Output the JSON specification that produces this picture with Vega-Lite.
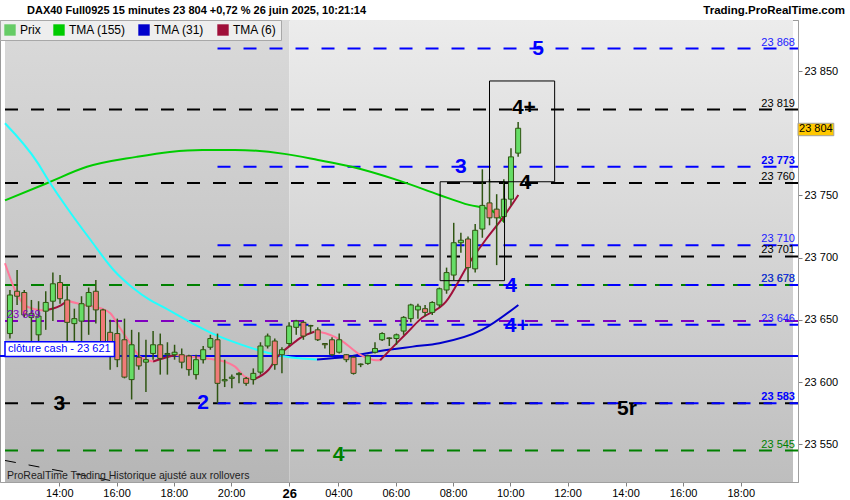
{
  "$schema": "https://vega.github.io/schema/vega-lite/v6.json",
  "width": 798,
  "height": 462,
  "autosize": {"type": "none"},
  "padding": {"left": 0, "top": 20, "right": 52, "bottom": 18},
  "background": "#ffffff",
  "config": {"font": "Liberation Sans", "view": {"stroke": "#9a9a9a", "strokeWidth": 1}},
  "datasets": {
    "sessions": [
      {"s": "25", "from": -0.69, "to": 39.03},
      {"s": "26", "from": 39.03, "to": 109.4}
    ],
    "levels": [
      {"v": 23819, "c": "#000000", "full": true},
      {"v": 23760, "c": "#000000", "full": true},
      {"v": 23701, "c": "#000000", "full": true},
      {"v": 23678, "c": "#008000", "full": true},
      {"v": 23649, "c": "#8000c0", "full": true},
      {"v": 23583, "c": "#000000", "full": true},
      {"v": 23545, "c": "#008000", "full": true},
      {"v": 23868, "c": "#0000ff", "full": false, "from": 29},
      {"v": 23773, "c": "#0000ff", "full": false, "from": 29},
      {"v": 23710, "c": "#0000ff", "full": false, "from": 29},
      {"v": 23678, "c": "#0000ff", "full": false, "from": 29},
      {"v": 23646, "c": "#0000ff", "full": false, "from": 29},
      {"v": 23583, "c": "#0000ff", "full": false, "from": 29}
    ],
    "cash": [{"v": 23621, "b0": -0.69, "b1": 14.6, "v0": 23632.5, "v1": 23620.5, "t": "clôture cash -  23 621", "tv": 23626.5}],
    "trend": [{"b0": -0.69, "v0": 23537, "b1": 14.6, "v1": 23520.3}],
    "headleft": [{"t": "DAX40 Full0925 15 minutes 23 804 +0,72 % 26 juin 2025, 10:21:14", "b": -0.69, "v": 23891}],
    "headright": [{"t": "Trading.ProRealTime.com", "v": 23891}],
    "ma": [
      {"b": -0.69, "v": 23746, "s": "g", "c": "#00cc00"},
      {"b": 5.24, "v": 23760, "s": "g", "c": "#00cc00"},
      {"b": 10.76, "v": 23773, "s": "g", "c": "#00cc00"},
      {"b": 17.66, "v": 23781, "s": "g", "c": "#00cc00"},
      {"b": 22.34, "v": 23785, "s": "g", "c": "#00cc00"},
      {"b": 26.9, "v": 23786.6, "s": "g", "c": "#00cc00"},
      {"b": 31.45, "v": 23786.6, "s": "g", "c": "#00cc00"},
      {"b": 38.34, "v": 23783.4, "s": "g", "c": "#00cc00"},
      {"b": 43.03, "v": 23778.5, "s": "g", "c": "#00cc00"},
      {"b": 47.59, "v": 23773.2, "s": "g", "c": "#00cc00"},
      {"b": 54.48, "v": 23761.7, "s": "g", "c": "#00cc00"},
      {"b": 60, "v": 23750.4, "s": "g", "c": "#00cc00"},
      {"b": 64.14, "v": 23742.4, "s": "g", "c": "#00cc00"},
      {"b": 67.17, "v": 23738.3, "s": "g", "c": "#00cc00"},
      {"b": 69.0, "v": 23729, "s": "g", "c": "#00cc00"},
      {"b": -0.69, "v": 23808, "s": "c1", "c": "#22ffff"},
      {"b": 3.9, "v": 23776, "s": "c1", "c": "#22ffff"},
      {"b": 5.28, "v": 23763, "s": "c1", "c": "#22ffff"},
      {"b": 8.51, "v": 23735.7, "s": "c1", "c": "#22ffff"},
      {"b": 11.27, "v": 23714.2, "s": "c1", "c": "#22ffff"},
      {"b": 14.48, "v": 23690.1, "s": "c1", "c": "#22ffff"},
      {"b": 17.24, "v": 23675.4, "s": "c1", "c": "#22ffff"},
      {"b": 19.54, "v": 23666, "s": "c1", "c": "#22ffff"},
      {"b": 21.38, "v": 23660.4, "s": "c1", "c": "#22ffff"},
      {"b": 25.06, "v": 23648.6, "s": "c1", "c": "#22ffff"},
      {"b": 28.73, "v": 23637.9, "s": "c1", "c": "#22ffff"},
      {"b": 32.41, "v": 23629.9, "s": "c1", "c": "#22ffff"},
      {"b": 36.1, "v": 23623.4, "s": "c1", "c": "#22ffff"},
      {"b": 39.31, "v": 23619.8, "s": "c1", "c": "#22ffff"},
      {"b": 42.9, "v": 23618.2, "s": "c1", "c": "#22ffff"},
      {"b": 42.9, "v": 23618.2, "s": "c2", "c": "#0000cc"},
      {"b": 47.17, "v": 23620.4, "s": "c2", "c": "#0000cc"},
      {"b": 51.72, "v": 23625, "s": "c2", "c": "#0000cc"},
      {"b": 56.28, "v": 23628.5, "s": "c2", "c": "#0000cc"},
      {"b": 60, "v": 23631.2, "s": "c2", "c": "#0000cc"},
      {"b": 65.93, "v": 23641.9, "s": "c2", "c": "#0000cc"},
      {"b": 71.03, "v": 23662, "s": "c2", "c": "#0000cc"},
      {"b": -0.69, "v": 23695.5, "s": "p1", "c": "#ff7799"},
      {"b": 0.92, "v": 23671.4, "s": "p1", "c": "#ff7799"},
      {"b": 2.07, "v": 23662, "s": "p1", "c": "#ff7799"},
      {"b": 3.45, "v": 23658.5, "s": "p1", "c": "#ff7799"},
      {"b": 4.83, "v": 23657.5, "s": "p1", "c": "#ff7799"},
      {"b": 4.83, "v": 23657.5, "s": "r1", "c": "#a0103a"},
      {"b": 6.9, "v": 23661, "s": "r1", "c": "#a0103a"},
      {"b": 8.04, "v": 23665.4, "s": "r1", "c": "#a0103a"},
      {"b": 8.04, "v": 23665.4, "s": "p2", "c": "#ff7799"},
      {"b": 10.34, "v": 23662, "s": "p2", "c": "#ff7799"},
      {"b": 12.65, "v": 23659.3, "s": "p2", "c": "#ff7799"},
      {"b": 14.03, "v": 23655.3, "s": "p2", "c": "#ff7799"},
      {"b": 15.41, "v": 23643.3, "s": "p2", "c": "#ff7799"},
      {"b": 16.79, "v": 23631.2, "s": "p2", "c": "#ff7799"},
      {"b": 18.17, "v": 23620.4, "s": "p2", "c": "#ff7799"},
      {"b": 20, "v": 23616.5, "s": "p2", "c": "#ff7799"},
      {"b": 20, "v": 23616.5, "s": "r2", "c": "#a0103a"},
      {"b": 21.66, "v": 23619.5, "s": "r2", "c": "#a0103a"},
      {"b": 23.17, "v": 23621.8, "s": "r2", "c": "#a0103a"},
      {"b": 23.17, "v": 23621.8, "s": "p3", "c": "#ff7799"},
      {"b": 25.93, "v": 23620, "s": "p3", "c": "#ff7799"},
      {"b": 28.69, "v": 23618, "s": "p3", "c": "#ff7799"},
      {"b": 29.66, "v": 23617, "s": "p3", "c": "#ff7799"},
      {"b": 31.45, "v": 23612.4, "s": "p3", "c": "#ff7799"},
      {"b": 32.83, "v": 23604.3, "s": "p3", "c": "#ff7799"},
      {"b": 34.07, "v": 23602.2, "s": "p3", "c": "#ff7799"},
      {"b": 34.07, "v": 23602.2, "s": "r3", "c": "#a0103a"},
      {"b": 36.1, "v": 23609.7, "s": "r3", "c": "#a0103a"},
      {"b": 37.48, "v": 23621, "s": "r3", "c": "#a0103a"},
      {"b": 39.31, "v": 23630, "s": "r3", "c": "#a0103a"},
      {"b": 40.69, "v": 23636, "s": "r3", "c": "#a0103a"},
      {"b": 42.52, "v": 23640.5, "s": "r3", "c": "#a0103a"},
      {"b": 42.52, "v": 23640.5, "s": "p4", "c": "#ff7799"},
      {"b": 43.45, "v": 23640, "s": "p4", "c": "#ff7799"},
      {"b": 46.2, "v": 23633.8, "s": "p4", "c": "#ff7799"},
      {"b": 48.97, "v": 23621.8, "s": "p4", "c": "#ff7799"},
      {"b": 50.8, "v": 23617.8, "s": "p4", "c": "#ff7799"},
      {"b": 51.72, "v": 23617.5, "s": "p4", "c": "#ff7799"},
      {"b": 51.72, "v": 23617.5, "s": "r4", "c": "#a0103a"},
      {"b": 53.56, "v": 23628.5, "s": "r4", "c": "#a0103a"},
      {"b": 55.41, "v": 23639.2, "s": "r4", "c": "#a0103a"},
      {"b": 57.24, "v": 23650, "s": "r4", "c": "#a0103a"},
      {"b": 60.92, "v": 23664.6, "s": "r4", "c": "#a0103a"},
      {"b": 64.14, "v": 23695.5, "s": "r4", "c": "#a0103a"},
      {"b": 66.44, "v": 23714.2, "s": "r4", "c": "#a0103a"},
      {"b": 68.97, "v": 23733, "s": "r4", "c": "#a0103a"},
      {"b": 71.03, "v": 23750.4, "s": "r4", "c": "#a0103a"}
    ],
    "candles": [
      {"b": 0, "o": 23639, "h": 23674, "l": 23635, "c": 23670},
      {"b": 1, "o": 23673, "h": 23690, "l": 23662, "c": 23669},
      {"b": 2, "o": 23672, "h": 23674, "l": 23652, "c": 23654},
      {"b": 3, "o": 23652, "h": 23666, "l": 23630, "c": 23655},
      {"b": 4, "o": 23638, "h": 23665, "l": 23628, "c": 23653},
      {"b": 5, "o": 23657, "h": 23673, "l": 23642, "c": 23664},
      {"b": 6, "o": 23665, "h": 23688, "l": 23649, "c": 23679},
      {"b": 7, "o": 23680, "h": 23686, "l": 23663, "c": 23667},
      {"b": 8, "o": 23666, "h": 23677, "l": 23631, "c": 23648},
      {"b": 9, "o": 23647, "h": 23659, "l": 23630, "c": 23651},
      {"b": 10, "o": 23649, "h": 23669, "l": 23632, "c": 23663},
      {"b": 11, "o": 23661, "h": 23676, "l": 23638, "c": 23672},
      {"b": 12, "o": 23673, "h": 23682, "l": 23647, "c": 23658},
      {"b": 13, "o": 23658, "h": 23659, "l": 23622, "c": 23630},
      {"b": 14, "o": 23640, "h": 23650, "l": 23610, "c": 23625},
      {"b": 15, "o": 23639, "h": 23651, "l": 23612, "c": 23618},
      {"b": 16, "o": 23634, "h": 23651, "l": 23603, "c": 23604},
      {"b": 17, "o": 23602, "h": 23642, "l": 23586, "c": 23630},
      {"b": 18, "o": 23620, "h": 23640, "l": 23610, "c": 23613},
      {"b": 19, "o": 23616, "h": 23634, "l": 23592, "c": 23618},
      {"b": 20, "o": 23623, "h": 23641, "l": 23618, "c": 23630},
      {"b": 21, "o": 23630, "h": 23639, "l": 23606, "c": 23619},
      {"b": 22, "o": 23622, "h": 23632, "l": 23606, "c": 23623},
      {"b": 23, "o": 23622, "h": 23630, "l": 23618, "c": 23624},
      {"b": 24, "o": 23622, "h": 23627, "l": 23611, "c": 23616},
      {"b": 25, "o": 23621, "h": 23622, "l": 23605, "c": 23610},
      {"b": 26, "o": 23606, "h": 23622, "l": 23602, "c": 23618},
      {"b": 27, "o": 23618, "h": 23629, "l": 23615, "c": 23626},
      {"b": 28, "o": 23628, "h": 23638, "l": 23626, "c": 23635},
      {"b": 29, "o": 23634, "h": 23639, "l": 23583, "c": 23599},
      {"b": 30, "o": 23601, "h": 23618, "l": 23596, "c": 23602},
      {"b": 31, "o": 23603, "h": 23606, "l": 23595, "c": 23604},
      {"b": 32, "o": 23606, "h": 23608, "l": 23599, "c": 23607},
      {"b": 33, "o": 23603, "h": 23604, "l": 23597, "c": 23599},
      {"b": 34, "o": 23602, "h": 23611, "l": 23598, "c": 23607},
      {"b": 35, "o": 23608, "h": 23632, "l": 23606, "c": 23629},
      {"b": 36, "o": 23629, "h": 23639, "l": 23627, "c": 23637},
      {"b": 37, "o": 23633, "h": 23635, "l": 23610, "c": 23614},
      {"b": 38, "o": 23622, "h": 23628, "l": 23607, "c": 23626},
      {"b": 39, "o": 23631, "h": 23648, "l": 23629, "c": 23645},
      {"b": 40, "o": 23644, "h": 23650, "l": 23638, "c": 23649},
      {"b": 41, "o": 23648, "h": 23649, "l": 23634, "c": 23637},
      {"b": 42, "o": 23645, "h": 23646, "l": 23639, "c": 23645.5},
      {"b": 43, "o": 23642, "h": 23644, "l": 23633, "c": 23634},
      {"b": 44, "o": 23631, "h": 23631.5, "l": 23627, "c": 23630},
      {"b": 45, "o": 23634, "h": 23636, "l": 23621, "c": 23622},
      {"b": 46, "o": 23624, "h": 23639, "l": 23623, "c": 23634},
      {"b": 47, "o": 23622, "h": 23622.5, "l": 23616, "c": 23618},
      {"b": 48, "o": 23620, "h": 23621, "l": 23606, "c": 23607},
      {"b": 49, "o": 23614, "h": 23615, "l": 23612, "c": 23614.5},
      {"b": 50, "o": 23615, "h": 23622, "l": 23614, "c": 23621},
      {"b": 51, "o": 23624, "h": 23632, "l": 23623, "c": 23627},
      {"b": 52, "o": 23634, "h": 23640, "l": 23633, "c": 23639},
      {"b": 53, "o": 23635, "h": 23636, "l": 23629, "c": 23635.5},
      {"b": 54, "o": 23635, "h": 23639, "l": 23630, "c": 23638},
      {"b": 55, "o": 23641, "h": 23653, "l": 23638, "c": 23652},
      {"b": 56, "o": 23651, "h": 23663, "l": 23648, "c": 23662},
      {"b": 57, "o": 23658, "h": 23663, "l": 23651, "c": 23661},
      {"b": 58, "o": 23659, "h": 23662, "l": 23653, "c": 23656},
      {"b": 59, "o": 23656, "h": 23665, "l": 23654, "c": 23664},
      {"b": 60, "o": 23662, "h": 23676, "l": 23660, "c": 23675},
      {"b": 61, "o": 23674, "h": 23692, "l": 23671, "c": 23688},
      {"b": 62, "o": 23686, "h": 23728, "l": 23682, "c": 23712},
      {"b": 63, "o": 23712, "h": 23720, "l": 23704, "c": 23714},
      {"b": 64, "o": 23715, "h": 23717, "l": 23680, "c": 23692},
      {"b": 65, "o": 23691, "h": 23727, "l": 23688, "c": 23722},
      {"b": 66, "o": 23723, "h": 23771, "l": 23716, "c": 23742},
      {"b": 67, "o": 23744, "h": 23763, "l": 23726, "c": 23732},
      {"b": 68, "o": 23739, "h": 23751, "l": 23694, "c": 23732},
      {"b": 69, "o": 23733, "h": 23763, "l": 23728, "c": 23747},
      {"b": 70, "o": 23747, "h": 23788, "l": 23742, "c": 23781},
      {"b": 71, "o": 23784, "h": 23809, "l": 23781, "c": 23804}
    ],
    "boxes": [
      {"b0": 60.1, "b1": 69.1, "v0": 23681.5, "v1": 23761},
      {"b0": 67.0, "b1": 76.1, "v0": 23761, "v1": 23842}
    ],
    "rlabels": [
      {"t": "23 868", "v": 23868, "c": "#2020ff", "bold": false},
      {"t": "23 819", "v": 23819, "c": "#000000", "bold": false},
      {"t": "23 773", "v": 23773, "c": "#0000ff", "bold": true},
      {"t": "23 760", "v": 23760, "c": "#000000", "bold": false},
      {"t": "23 710", "v": 23710, "c": "#2020ff", "bold": false},
      {"t": "23 701", "v": 23701, "c": "#000000", "bold": false},
      {"t": "23 678", "v": 23678, "c": "#008000", "bold": false},
      {"t": "23 678", "v": 23678, "c": "#2020ff", "bold": false},
      {"t": "23 646", "v": 23646, "c": "#2020ff", "bold": false},
      {"t": "23 583", "v": 23583, "c": "#0000ff", "bold": true},
      {"t": "23 545", "v": 23545, "c": "#008000", "bold": false}
    ],
    "notes": [
      {"t": "5", "b": 73.8, "v": 23868, "c": "#0000ff"},
      {"t": "4+", "b": 71.8, "v": 23820, "c": "#000000"},
      {"t": "3", "b": 63, "v": 23773, "c": "#0000ff"},
      {"t": "4", "b": 72, "v": 23760, "c": "#000000"},
      {"t": "4", "b": 70, "v": 23677, "c": "#0000ff"},
      {"t": "4+", "b": 70.8, "v": 23645, "c": "#0000ff"},
      {"t": "3", "b": 6.9, "v": 23582, "c": "#000000"},
      {"t": "2", "b": 27, "v": 23583, "c": "#0000ff"},
      {"t": "5r", "b": 86.2, "v": 23578, "c": "#000000"},
      {"t": "4", "b": 45.9, "v": 23541, "c": "#008000"}
    ],
    "leftlab": [{"t": "23 649", "b": -0.69, "v": 23649}],
    "footer": [{"t": "ProRealTime Trading  Historique ajusté aux rollovers", "b": -0.69, "v": 23524.5}],
    "price": [{"t": "23 804", "b0": 110.1, "b1": 115.1, "v0": 23808, "v1": 23798, "tb": 112.6, "tv": 23803}],
    "legend": [{"n": "Prix"}, {"n": "TMA (155)"}, {"n": "TMA (31)"}, {"n": "TMA (6)"}]
  },
  "layer": [
    {
      "data": {"name": "sessions"},
      "transform": [{"filter": "datum.s == '25'"}],
      "mark": {"type": "rect", "fill": {"gradient": "linear", "x1": 0, "y1": 0, "x2": 0, "y2": 1, "stops": [{"offset": 0, "color": "#dadada"}, {"offset": 1, "color": "#b6b6b6"}]}},
      "encoding": {
        "x": {"field": "from", "type": "quantitative", "scale": {"domain": [-0.69, 109.4], "nice": false, "zero": false},
          "axis": {"values": [6.9, 14.9, 22.9, 30.9, 39.03, 45.9, 53.9, 61.9, 69.9, 77.9, 86.0, 94.05, 102.1],
            "labelExpr": "datum.value < 10 ? '14:00' : datum.value < 18 ? '16:00' : datum.value < 26 ? '18:00' : datum.value < 34 ? '20:00' : datum.value < 42 ? '26' : datum.value < 50 ? '04:00' : datum.value < 58 ? '06:00' : datum.value < 66 ? '08:00' : datum.value < 74 ? '10:00' : datum.value < 82 ? '12:00' : datum.value < 90 ? '14:00' : datum.value < 98 ? '16:00' : '18:00'",
            "grid": false, "title": null, "tickColor": "#808080", "tickSize": 4, "domainColor": "#a0a0a0", "labelColor": "#000000", "labelPadding": 1, "labelFlush": false, "labelOverlap": false,
            "labelFontSize": {"condition": {"test": "datum.value > 38 && datum.value < 40", "value": 13}, "value": 11},
            "labelFontWeight": {"condition": {"test": "datum.value > 38 && datum.value < 40", "value": "bold"}, "value": "normal"}}},
        "x2": {"field": "to"}
      }
    },
    {
      "data": {"name": "sessions"},
      "transform": [{"filter": "datum.s == '26'"}],
      "mark": {"type": "rect", "fill": {"gradient": "linear", "x1": 0, "y1": 0, "x2": 0, "y2": 1, "stops": [{"offset": 0, "color": "#ececec"}, {"offset": 1, "color": "#bebebe"}]}},
      "encoding": {"x": {"field": "from", "type": "quantitative"}, "x2": {"field": "to"}}
    },
    {
      "data": {"name": "levels"},
      "transform": [{"filter": "datum.full"}],
      "mark": {"type": "rule", "strokeDash": [13, 13], "strokeWidth": 2},
      "encoding": {
        "y": {"field": "v", "type": "quantitative", "scale": {"domain": [23519.7, 23891], "nice": false, "zero": false},
          "axis": {"orient": "right", "values": [23550, 23600, 23650, 23700, 23750, 23850], "labelExpr": "replace(format(datum.value, ','), ',', ' ')", "grid": false, "tickColor": "#808080", "tickSize": 4, "domainColor": "#a0a0a0", "labelFontSize": 11, "labelPadding": 2, "labelColor": "#000000", "title": null}},
        "color": {"field": "c", "type": "nominal", "scale": null}
      }
    },
    {
      "data": {"name": "levels"},
      "transform": [{"filter": "!datum.full"}],
      "mark": {"type": "rule", "strokeDash": [13, 13], "strokeWidth": 2},
      "encoding": {
        "x": {"field": "from", "type": "quantitative"},
        "x2": {"value": "width"},
        "y": {"field": "v", "type": "quantitative"},
        "color": {"field": "c", "type": "nominal", "scale": null}
      }
    },
    {
      "data": {"name": "cash"},
      "mark": {"type": "rule", "strokeWidth": 2, "color": "#0000ee"},
      "encoding": {"y": {"field": "v", "type": "quantitative"}}
    },
    {
      "data": {"name": "trend"},
      "mark": {"type": "rule", "strokeWidth": 1, "color": "#000000", "strokeDash": [11, 13]},
      "encoding": {
        "x": {"field": "b0", "type": "quantitative"}, "x2": {"field": "b1"},
        "y": {"field": "v0", "type": "quantitative"}, "y2": {"field": "v1"}
      }
    },
    {
      "data": {"name": "ma"},
      "mark": {"type": "line", "strokeWidth": 2, "interpolate": "monotone"},
      "encoding": {
        "x": {"field": "b", "type": "quantitative"},
        "y": {"field": "v", "type": "quantitative"},
        "detail": {"field": "s", "type": "nominal"},
        "color": {"field": "c", "type": "nominal", "scale": null}
      }
    },
    {
      "data": {"name": "candles"},
      "mark": {"type": "rule", "strokeWidth": 1.5, "color": "#2f5512"},
      "encoding": {
        "x": {"field": "b", "type": "quantitative"},
        "y": {"field": "l", "type": "quantitative"},
        "y2": {"field": "h"}
      }
    },
    {
      "data": {"name": "candles"},
      "mark": {"type": "bar", "size": 5, "stroke": "#2f5512", "strokeWidth": 1},
      "encoding": {
        "x": {"field": "b", "type": "quantitative"},
        "y": {"field": "o", "type": "quantitative"},
        "y2": {"field": "c"},
        "fill": {"condition": {"test": "datum.c >= datum.o", "value": "#66dd66"}, "value": "#f07a78"}
      }
    },
    {
      "data": {"name": "boxes"},
      "mark": {"type": "rect", "fillOpacity": 0, "stroke": "#000000", "strokeWidth": 1},
      "encoding": {
        "x": {"field": "b0", "type": "quantitative"}, "x2": {"field": "b1"},
        "y": {"field": "v0", "type": "quantitative"}, "y2": {"field": "v1"}
      }
    },
    {
      "data": {"name": "rlabels"},
      "transform": [{"filter": "!datum.bold"}],
      "mark": {"type": "text", "align": "right", "baseline": "bottom", "dx": -3, "dy": -1, "fontSize": 11},
      "encoding": {
        "x": {"value": "width"},
        "y": {"field": "v", "type": "quantitative"},
        "text": {"field": "t"},
        "color": {"field": "c", "type": "nominal", "scale": null}
      }
    },
    {
      "data": {"name": "rlabels"},
      "transform": [{"filter": "datum.bold"}],
      "mark": {"type": "text", "align": "right", "baseline": "bottom", "dx": -3, "dy": -1, "fontSize": 11, "fontWeight": "bold"},
      "encoding": {
        "x": {"value": "width"},
        "y": {"field": "v", "type": "quantitative"},
        "text": {"field": "t"},
        "color": {"field": "c", "type": "nominal", "scale": null}
      }
    },
    {
      "data": {"name": "notes"},
      "mark": {"type": "text", "align": "center", "baseline": "middle", "fontSize": 21, "fontWeight": "bold"},
      "encoding": {
        "x": {"field": "b", "type": "quantitative"},
        "y": {"field": "v", "type": "quantitative"},
        "text": {"field": "t"},
        "color": {"field": "c", "type": "nominal", "scale": null}
      }
    },
    {
      "data": {"name": "cash"},
      "mark": {"type": "rect", "fill": "#ffffff", "stroke": "#0000ff", "strokeWidth": 1.5},
      "encoding": {
        "x": {"field": "b0", "type": "quantitative"}, "x2": {"field": "b1"},
        "y": {"field": "v0", "type": "quantitative"}, "y2": {"field": "v1"}
      }
    },
    {
      "data": {"name": "cash"},
      "mark": {"type": "text", "align": "left", "baseline": "middle", "dx": 3, "fontSize": 11, "color": "#0000ff"},
      "encoding": {
        "x": {"field": "b0", "type": "quantitative"},
        "y": {"field": "tv", "type": "quantitative"},
        "text": {"field": "t"}
      }
    },
    {
      "data": {"name": "leftlab"},
      "mark": {"type": "text", "align": "left", "baseline": "bottom", "dx": 2, "dy": -1, "fontSize": 11, "color": "#8000c0"},
      "encoding": {
        "x": {"field": "b", "type": "quantitative"},
        "y": {"field": "v", "type": "quantitative"},
        "text": {"field": "t"}
      }
    },
    {
      "data": {"name": "footer"},
      "mark": {"type": "text", "align": "left", "baseline": "middle", "dx": 2, "fontSize": 10.5, "color": "#222222"},
      "encoding": {
        "x": {"field": "b", "type": "quantitative"},
        "y": {"field": "v", "type": "quantitative"},
        "text": {"field": "t"}
      }
    },
    {
      "data": {"name": "headleft"},
      "mark": {"type": "text", "align": "left", "baseline": "bottom", "dx": 22, "dy": -4, "fontSize": 11, "fontWeight": "bold", "color": "#000000"},
      "encoding": {
        "x": {"field": "b", "type": "quantitative"},
        "y": {"field": "v", "type": "quantitative"},
        "text": {"field": "t"}
      }
    },
    {
      "data": {"name": "headright"},
      "mark": {"type": "text", "align": "right", "baseline": "bottom", "dx": 47, "dy": -4, "fontSize": 11.5, "fontWeight": "bold", "color": "#000000"},
      "encoding": {
        "x": {"value": "width"},
        "y": {"field": "v", "type": "quantitative"},
        "text": {"field": "t"}
      }
    },
    {
      "data": {"name": "price"},
      "mark": {"type": "rect", "fill": "#ffc800", "stroke": "#a0a0a0", "strokeWidth": 1},
      "encoding": {
        "x": {"field": "b0", "type": "quantitative"}, "x2": {"field": "b1"},
        "y": {"field": "v0", "type": "quantitative"}, "y2": {"field": "v1"}
      }
    },
    {
      "data": {"name": "price"},
      "mark": {"type": "text", "align": "center", "baseline": "middle", "fontSize": 11, "color": "#000000"},
      "encoding": {
        "x": {"field": "tb", "type": "quantitative"},
        "y": {"field": "tv", "type": "quantitative"},
        "text": {"field": "t"}
      }
    },
    {
      "data": {"name": "legend"},
      "mark": {"type": "square", "opacity": 0, "filled": true},
      "encoding": {
        "fill": {"field": "n", "type": "nominal",
          "scale": {"domain": ["Prix", "TMA (155)", "TMA (31)", "TMA (6)"], "range": ["#66cc66", "#00cc00", "#0000cc", "#a0103a"]},
          "legend": {"title": null, "orient": "top-left", "direction": "horizontal", "offset": 0, "padding": 4, "fillColor": "#eeeeee", "strokeColor": "#a8a8a8", "symbolType": "square", "symbolSize": 130, "symbolStrokeWidth": 0, "symbolOpacity": 1, "labelFontSize": 12, "labelColor": "#000000", "columnPadding": 12, "labelOffset": 4, "columns": 4}}
      }
    }
  ]
}
